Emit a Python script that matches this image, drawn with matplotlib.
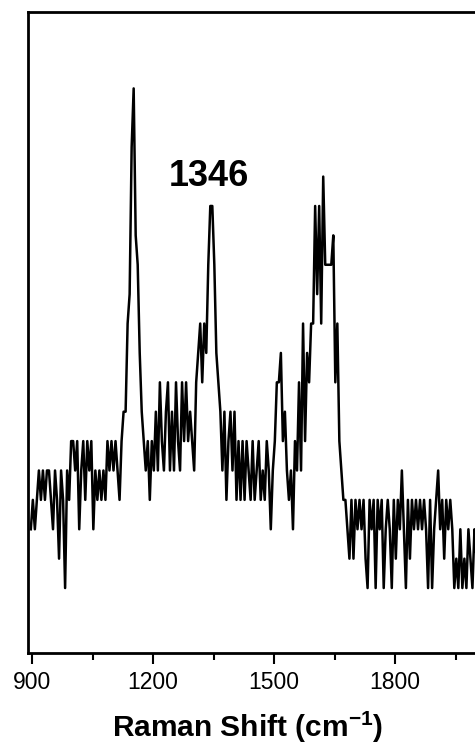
import numpy as np
import matplotlib
matplotlib.use('Agg')
import matplotlib.pyplot as plt

plt.rcParams['font.family'] = ['Liberation Sans', 'DejaVu Sans']

# спектр: отсчёты через 5 см-1, начиная с 897 см-1 (уровни интенсивности, отн. ед.)
shift_start = 897
shift_step = 5
intensity = [
    2, 3, 2, 3, 4, 3, 4, 3, 4, 4,
    3, 2, 4, 3, 1, 4, 3, 0, 4, 3,
    5, 5, 4, 5, 2, 4, 5, 3, 5, 4,
    5, 2, 4, 3, 4, 3, 4, 3, 5, 4,
    5, 4, 5, 4, 3, 5, 6, 6, 9, 10,
    15, 17, 12, 11, 8, 6, 5, 4, 5, 3,
    5, 4, 6, 4, 7, 5, 4, 6, 7, 4,
    6, 4, 7, 5, 4, 7, 5, 7, 5, 6,
    5, 4, 7, 8, 9, 7, 9, 8, 11, 13,
    13, 11, 8, 7, 6, 4, 6, 3, 5, 6,
    4, 6, 3, 5, 3, 5, 3, 5, 4, 3,
    5, 3, 4, 5, 3, 4, 3, 5, 4, 2,
    4, 5, 7, 7, 8, 5, 6, 4, 3, 4,
    2, 5, 4, 7, 4, 9, 5, 8, 7, 9,
    9, 13, 10, 13, 9, 14, 11, 11, 11, 11,
    12, 7, 9, 5, 4, 3, 3, 2, 1, 3,
    1, 3, 2, 3, 2, 3, 1, 0, 3, 2,
    3, 0, 3, 2, 3, 0, 2, 3, 2, 0,
    3, 1, 3, 2, 4, 2, 0, 3, 1, 3,
    2, 3, 2, 3, 2, 3, 2, 0, 3, 0,
    2, 3, 4, 2, 3, 1, 3, 2, 3, 2,
    0, 1, 0, 2, 0, 1, 0, 2, 1, 0,
    2, 1, 2, 1, 2,
]
shift = shift_start + shift_step * np.arange(len(intensity))

peak_label = '1346'
peak_label_pos = (1338, 14.0)
major_ticks = [900, 1200, 1500, 1800]
minor_ticks = [1050, 1350, 1650, 1950]

fig = plt.figure(figsize=(4.75, 7.49), dpi=100)
# правая граница осей специально за краем картинки (как в оригинале - обрезано)
ax = fig.add_axes([28 / 475, 96 / 749, 488 / 475, 641 / 749])

ax.plot(shift, intensity, color='black', lw=1.8)
ax.set_xlim(890, 2100)
ax.set_ylim(-2.21, 19.6)

ax.set_xticks(major_ticks)
ax.set_xticks(minor_ticks, minor=True)
ax.set_yticks([])
ax.tick_params(axis='x', which='major', direction='out', length=8, width=1.5,
               labelsize=16.5, pad=5)
ax.tick_params(axis='x', which='minor', direction='out', length=5, width=1.5)
for sp in ax.spines.values():
    sp.set_linewidth(2)

ax.set_xlabel('Raman Shift (cm$^{\\mathregular{-1}}$)', fontsize=21.5, fontweight='bold')
ax.xaxis.set_label_coords((248 - 28) / 488, -0.088)

ax.text(peak_label_pos[0], peak_label_pos[1], peak_label, fontsize=26,
        fontweight='bold', ha='center', va='center')

fig.savefig('out.png', dpi=100)
